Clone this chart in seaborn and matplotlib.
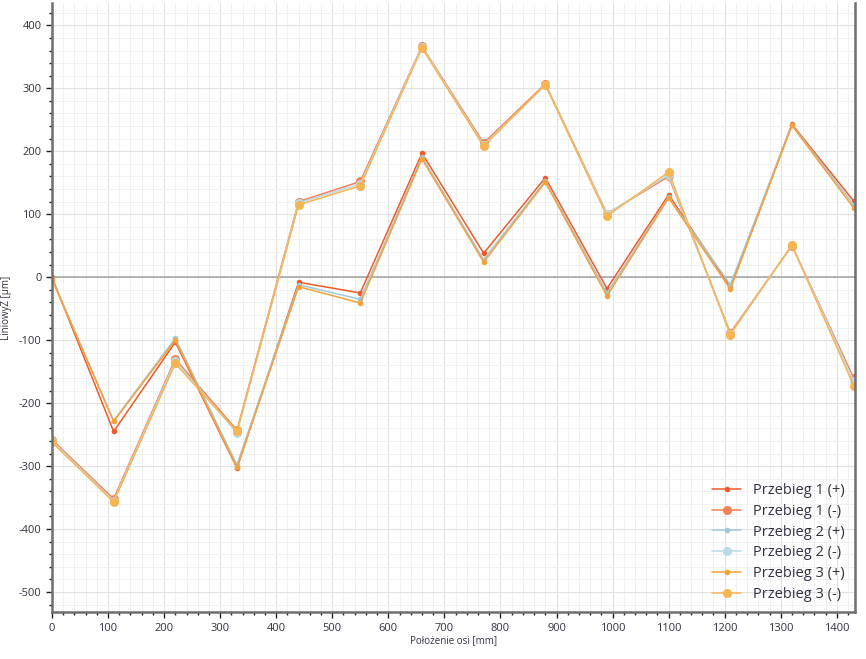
import matplotlib
matplotlib.use('Agg')
import matplotlib.pyplot as plt
from matplotlib.ticker import MultipleLocator
import seaborn as sns
import pandas as pd

# positions along the axis [mm]
positions = [0, 110, 220, 330, 440, 550, 660, 770, 880, 990, 1100, 1210, 1320, 1430]

run1_plus = [0, -245, -103, -303, -8, -25, 197, 38, 158, -18, 131, -15, 243, 121]
run2_plus = [-2, -228, -97, -298, -12, -35, 191, 28, 153, -25, 127, -12, 242, 115]
run3_plus = [-3, -229, -100, -302, -15, -41, 188, 24, 151, -30, 126, -19, 241, 110]

run1_minus = [-258, -352, -130, -243, 120, 152, 367, 213, 307, 101, 160, -88, 50, -160]
run2_minus = [-260, -355, -133, -247, 118, 148, 366, 210, 305, 100, 163, -90, 51, -165]
run3_minus = [-262, -357, -137, -245, 115, 145, 364, 208, 306, 97, 167, -91, 51, -172]

series_names = ['Przebieg 1 (+)', 'Przebieg 1 (-)', 'Przebieg 2 (+)',
                'Przebieg 2 (-)', 'Przebieg 3 (+)', 'Przebieg 3 (-)']
series_values = [run1_plus, run1_minus, run2_plus, run2_minus, run3_plus, run3_minus]

colors = ['#f05a28', '#f58055', '#9fc9d9', '#b8dbe7', '#f5a13c', '#f7b552']

rows = []
for name, vals in zip(series_names, series_values):
    for x, y in zip(positions, vals):
        rows.append({'pos': x, 'val': y, 'series': name})
df = pd.DataFrame(rows)

sns.set_style('white')
plt.rcParams['font.family'] = ['Open Sans', 'DejaVu Sans']
plt.rcParams['axes.unicode_minus'] = False

fig = plt.figure(figsize=(8.66, 6.59), dpi=100)
ax = fig.add_axes([0.060, 0.071, 0.927, 0.924])

for i, name in enumerate(series_names):
    msize = 4 if '(+)' in name else 6.5
    sns.lineplot(data=df[df['series'] == name], x='pos', y='val', ax=ax,
                 color=colors[i], marker='o', markersize=msize,
                 markeredgewidth=0, linewidth=1.1, label=name)

ax.axhline(0, color='#a8a8a8', linewidth=1.2, zorder=1)

ax.set_xlim(0, 1432)
ax.set_ylim(-532, 435)
ax.xaxis.set_major_locator(MultipleLocator(100))
ax.xaxis.set_minor_locator(MultipleLocator(20))
ax.yaxis.set_major_locator(MultipleLocator(100))
ax.yaxis.set_minor_locator(MultipleLocator(20))

ax.grid(True, which='major', color='#e2e2e2', linewidth=0.8)
ax.grid(True, which='minor', color='#f1f1f1', linewidth=0.7)
ax.set_axisbelow(True)

ax.tick_params(axis='both', which='major', direction='out', length=4, width=1,
               color='#222222', labelsize=8, labelcolor='#333344', bottom=True, left=True)
ax.tick_params(axis='both', which='minor', direction='out', length=2.5, width=1,
               color='#222222', bottom=True, left=True)

for side in ['left', 'bottom', 'right']:
    ax.spines[side].set_color('#6e6e6e')
    ax.spines[side].set_linewidth(1.8)
ax.spines['top'].set_visible(False)

ax.set_xlabel('Położenie osi [mm]', fontsize=7, color='#333344', labelpad=1)
ax.set_ylabel('LiniowyZ [µm]', fontsize=7, color='#333344', labelpad=5)

leg = ax.legend(loc='lower right', frameon=False, fontsize=10.5, handlelength=2.0,
                labelspacing=0.4, borderaxespad=0.3)
for t in leg.get_texts():
    t.set_color('#333344')

fig.savefig('out.png', dpi=100)
